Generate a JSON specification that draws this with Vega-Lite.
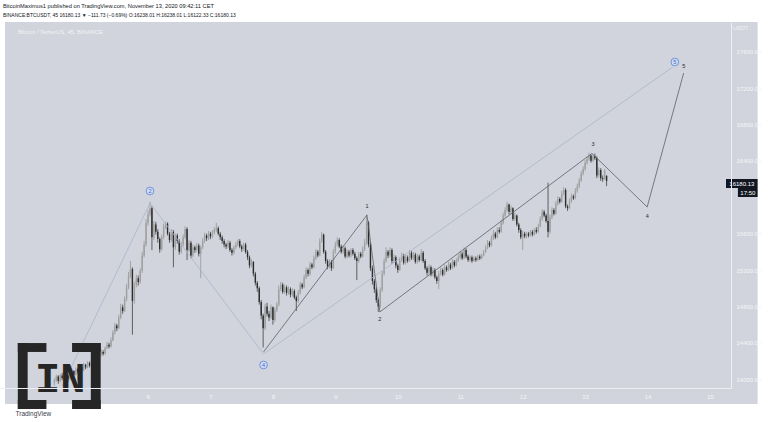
{
"$schema":"https://vega.github.io/schema/vega-lite/v6.json",
"width":731,"height":366,"autosize":"none",
"padding":{"left":0,"top":22,"right":37,"bottom":34},
"background":"#ffffff",
"config":{"view":{"stroke":null},"font":"Liberation Sans"},
"title":{"text":"BitcoinMaximus1 published on TradingView.com, November 13, 2020 09:42:11 CET","subtitle":"BINANCE:BTCUSDT, 45 16180.13 ▼ −111.73 (−0.69%) O:16238.01 H:16238.01 L:16122.33 C:16180.13","anchor":"start","frame":"group","fontSize":5.7,"fontWeight":"normal","subtitleFontSize":5,"color":"#131722","subtitleColor":"#131722","offset":4,"subtitlePadding":4,"dx":3},
"datasets":{
"candles":[
{"k":112,"o":13960,"c":13990,"h":14010,"l":13930},{"k":113,"o":13990,"c":14030,"h":14050,"l":13970},{"k":114,"o":14030,"c":13980,"h":14045,"l":13950},{"k":115,"o":13980,"c":14040,"h":14060,"l":13965},{"k":116,"o":14040,"c":14010,"h":14070,"l":13990},{"k":117,"o":14010,"c":14070,"h":14090,"l":14000},{"k":118,"o":14070,"c":14040,"h":14085,"l":14020},{"k":119,"o":14040,"c":14000,"h":14055,"l":13970},{"k":120,"o":14000,"c":14060,"h":14080,"l":13990},{"k":121,"o":14060,"c":14090,"h":14120,"l":14050},
{"k":122,"o":14090,"c":14050,"h":14100,"l":14030},{"k":123,"o":14050,"c":14110,"h":14130,"l":14040},{"k":124,"o":14110,"c":14080,"h":14125,"l":14060},{"k":125,"o":14080,"c":14130,"h":14150,"l":14070},{"k":126,"o":14130,"c":14100,"h":14140,"l":14080},{"k":127,"o":14100,"c":14160,"h":14180,"l":14090},{"k":128,"o":14160,"c":14130,"h":14170,"l":14110},{"k":129,"o":14130,"c":14180,"h":14200,"l":14120},{"k":130,"o":14180,"c":14150,"h":14195,"l":14130},{"k":131,"o":14150,"c":14210,"h":14230,"l":14140},
{"k":132,"o":14210,"c":14190,"h":14240,"l":14170},{"k":133,"o":14190,"c":14240,"h":14260,"l":14180},{"k":134,"o":14240,"c":14220,"h":14255,"l":14200},{"k":135,"o":14220,"c":14270,"h":14290,"l":14210},{"k":136,"o":14270,"c":14300,"h":14330,"l":14250},{"k":137,"o":14300,"c":14280,"h":14320,"l":14260},{"k":138,"o":14280,"c":14340,"h":14360,"l":14270},{"k":139,"o":14340,"c":14380,"h":14410,"l":14330},{"k":140,"o":14380,"c":14360,"h":14400,"l":14340},{"k":141,"o":14360,"c":14430,"h":14460,"l":14350},
{"k":142,"o":14430,"c":14510,"h":14540,"l":14420},{"k":143,"o":14510,"c":14590,"h":14620,"l":14490},{"k":144,"o":14590,"c":14560,"h":14610,"l":14530},{"k":145,"o":14560,"c":14680,"h":14710,"l":14550},{"k":146,"o":14680,"c":14790,"h":14830,"l":14660},{"k":147,"o":14790,"c":14750,"h":14820,"l":14720},{"k":148,"o":14750,"c":14880,"h":14910,"l":14740},{"k":149,"o":14880,"c":15010,"h":15050,"l":14860},{"k":150,"o":15010,"c":15130,"h":15180,"l":14990},{"k":151,"o":15130,"c":15210,"h":15300,"l":15110},
{"k":152,"o":15210,"c":14860,"h":15230,"l":14490},{"k":153,"o":14860,"c":15040,"h":15070,"l":14830},{"k":154,"o":15040,"c":15110,"h":15150,"l":15010},{"k":155,"o":15110,"c":15070,"h":15140,"l":15030},{"k":156,"o":15070,"c":15190,"h":15220,"l":15050},{"k":157,"o":15190,"c":15360,"h":15400,"l":15170},{"k":158,"o":15360,"c":15480,"h":15520,"l":15340},{"k":159,"o":15480,"c":15720,"h":15760,"l":15460},{"k":160,"o":15720,"c":15810,"h":15860,"l":15690},{"k":161,"o":15810,"c":15880,"h":15950,"l":15790},
{"k":162,"o":15880,"c":15560,"h":15900,"l":15420},{"k":163,"o":15560,"c":15700,"h":15740,"l":15530},{"k":164,"o":15700,"c":15620,"h":15730,"l":15590},{"k":165,"o":15620,"c":15540,"h":15650,"l":15500},{"k":166,"o":15540,"c":15430,"h":15560,"l":15390},{"k":167,"o":15430,"c":15560,"h":15590,"l":15410},{"k":168,"o":15560,"c":15680,"h":15710,"l":15540},{"k":169,"o":15680,"c":15710,"h":15730,"l":15650},{"k":170,"o":15710,"c":15600,"h":15725,"l":15580},{"k":171,"o":15600,"c":15530,"h":15620,"l":15500},
{"k":172,"o":15530,"c":15620,"h":15650,"l":15510},{"k":173,"o":15620,"c":15450,"h":15640,"l":15230},{"k":174,"o":15450,"c":15580,"h":15600,"l":15420},{"k":175,"o":15580,"c":15520,"h":15600,"l":15490},{"k":176,"o":15520,"c":15400,"h":15540,"l":15370},{"k":177,"o":15400,"c":15480,"h":15510,"l":15380},{"k":178,"o":15480,"c":15560,"h":15590,"l":15460},{"k":179,"o":15560,"c":15650,"h":15680,"l":15540},{"k":180,"o":15650,"c":15420,"h":15670,"l":15310},{"k":181,"o":15420,"c":15500,"h":15530,"l":15400},
{"k":182,"o":15500,"c":15360,"h":15520,"l":15330},{"k":183,"o":15360,"c":15450,"h":15480,"l":15340},{"k":184,"o":15450,"c":15420,"h":15470,"l":15390},{"k":185,"o":15420,"c":15470,"h":15500,"l":15400},{"k":186,"o":15470,"c":15380,"h":15490,"l":15350},{"k":187,"o":15380,"c":15450,"h":15470,"l":15110},{"k":188,"o":15450,"c":15520,"h":15550,"l":15430},{"k":189,"o":15520,"c":15580,"h":15610,"l":15500},{"k":190,"o":15580,"c":15550,"h":15600,"l":15520},{"k":191,"o":15550,"c":15600,"h":15630,"l":15530},
{"k":192,"o":15600,"c":15570,"h":15620,"l":15540},{"k":193,"o":15570,"c":15610,"h":15640,"l":15550},{"k":194,"o":15610,"c":15640,"h":15670,"l":15590},{"k":195,"o":15640,"c":15660,"h":15720,"l":15620},{"k":196,"o":15660,"c":15600,"h":15680,"l":15580},{"k":197,"o":15600,"c":15560,"h":15620,"l":15530},{"k":198,"o":15560,"c":15520,"h":15580,"l":15490},{"k":199,"o":15520,"c":15480,"h":15540,"l":15450},{"k":200,"o":15480,"c":15460,"h":15500,"l":15430},{"k":201,"o":15460,"c":15500,"h":15530,"l":15440},
{"k":202,"o":15500,"c":15420,"h":15520,"l":15400},{"k":203,"o":15420,"c":15390,"h":15440,"l":15360},{"k":204,"o":15390,"c":15450,"h":15470,"l":15370},{"k":205,"o":15450,"c":15480,"h":15510,"l":15430},{"k":206,"o":15480,"c":15520,"h":15540,"l":15460},{"k":207,"o":15520,"c":15460,"h":15540,"l":15440},{"k":208,"o":15460,"c":15430,"h":15480,"l":15400},{"k":209,"o":15430,"c":15480,"h":15500,"l":15410},{"k":210,"o":15480,"c":15400,"h":15500,"l":15380},{"k":211,"o":15400,"c":15340,"h":15420,"l":15310},
{"k":212,"o":15340,"c":15250,"h":15360,"l":15220},{"k":213,"o":15250,"c":15290,"h":15320,"l":15230},{"k":214,"o":15290,"c":15160,"h":15300,"l":15130},{"k":215,"o":15160,"c":15060,"h":15180,"l":15030},{"k":216,"o":15060,"c":15000,"h":15080,"l":14960},{"k":217,"o":15000,"c":14850,"h":15020,"l":14820},{"k":218,"o":14850,"c":14700,"h":14870,"l":14660},{"k":219,"o":14700,"c":14560,"h":14720,"l":14350},{"k":220,"o":14560,"c":14800,"h":14830,"l":14540},{"k":221,"o":14800,"c":14720,"h":14840,"l":14690},
{"k":222,"o":14720,"c":14680,"h":14750,"l":14640},{"k":223,"o":14680,"c":14790,"h":14820,"l":14660},{"k":224,"o":14790,"c":14650,"h":14800,"l":14600},{"k":225,"o":14650,"c":14760,"h":14790,"l":14630},{"k":226,"o":14760,"c":14820,"h":14850,"l":14740},{"k":227,"o":14820,"c":14990,"h":15030,"l":14800},{"k":228,"o":14990,"c":15040,"h":15070,"l":14970},{"k":229,"o":15040,"c":14960,"h":15060,"l":14940},{"k":230,"o":14960,"c":15010,"h":15040,"l":14940},{"k":231,"o":15010,"c":14950,"h":15030,"l":14920},
{"k":232,"o":14950,"c":14990,"h":15020,"l":14930},{"k":233,"o":14990,"c":14930,"h":15010,"l":14900},{"k":234,"o":14930,"c":14970,"h":15000,"l":14910},{"k":235,"o":14970,"c":14900,"h":14990,"l":14880},{"k":236,"o":14900,"c":14860,"h":14920,"l":14750},{"k":237,"o":14860,"c":14950,"h":14980,"l":14840},{"k":238,"o":14950,"c":15040,"h":15070,"l":14930},{"k":239,"o":15040,"c":15010,"h":15060,"l":14990},{"k":240,"o":15010,"c":15120,"h":15150,"l":15000},{"k":241,"o":15120,"c":15200,"h":15230,"l":15100},
{"k":242,"o":15200,"c":15160,"h":15220,"l":15130},{"k":243,"o":15160,"c":15260,"h":15290,"l":15140},{"k":244,"o":15260,"c":15230,"h":15280,"l":15210},{"k":245,"o":15230,"c":15330,"h":15360,"l":15220},{"k":246,"o":15330,"c":15400,"h":15430,"l":15310},{"k":247,"o":15400,"c":15360,"h":15420,"l":15340},{"k":248,"o":15360,"c":15520,"h":15550,"l":15350},{"k":249,"o":15520,"c":15590,"h":15620,"l":15500},{"k":250,"o":15590,"c":15400,"h":15600,"l":15380},{"k":251,"o":15400,"c":15300,"h":15420,"l":15270},
{"k":252,"o":15300,"c":15240,"h":15320,"l":15210},{"k":253,"o":15240,"c":15290,"h":15320,"l":15220},{"k":254,"o":15290,"c":15220,"h":15310,"l":15190},{"k":255,"o":15220,"c":15400,"h":15430,"l":15210},{"k":256,"o":15400,"c":15480,"h":15510,"l":15380},{"k":257,"o":15480,"c":15530,"h":15560,"l":15460},{"k":258,"o":15530,"c":15460,"h":15550,"l":15440},{"k":259,"o":15460,"c":15400,"h":15480,"l":15380},{"k":260,"o":15400,"c":15440,"h":15470,"l":15380},{"k":261,"o":15440,"c":15350,"h":15460,"l":15330},
{"k":262,"o":15350,"c":15400,"h":15430,"l":15330},{"k":263,"o":15400,"c":15360,"h":15420,"l":15340},{"k":264,"o":15360,"c":15420,"h":15440,"l":15340},{"k":265,"o":15420,"c":15380,"h":15440,"l":15360},{"k":266,"o":15380,"c":15330,"h":15400,"l":15310},{"k":267,"o":15330,"c":15300,"h":15350,"l":15090},{"k":268,"o":15300,"c":15380,"h":15400,"l":15280},{"k":269,"o":15380,"c":15350,"h":15400,"l":15330},{"k":270,"o":15350,"c":15430,"h":15460,"l":15340},{"k":271,"o":15430,"c":15500,"h":15540,"l":15410},
{"k":272,"o":15500,"c":15720,"h":15810,"l":15480},{"k":273,"o":15720,"c":15480,"h":15740,"l":15450},{"k":274,"o":15480,"c":15220,"h":15500,"l":15190},{"k":275,"o":15220,"c":15080,"h":15250,"l":15040},{"k":276,"o":15080,"c":14990,"h":15100,"l":14950},{"k":277,"o":14990,"c":14870,"h":15010,"l":14840},{"k":278,"o":14870,"c":14800,"h":14890,"l":14740},{"k":279,"o":14800,"c":14980,"h":15010,"l":14780},{"k":280,"o":14980,"c":15160,"h":15190,"l":14960},{"k":281,"o":15160,"c":15300,"h":15330,"l":15140},
{"k":282,"o":15300,"c":15400,"h":15450,"l":15280},{"k":283,"o":15400,"c":15360,"h":15420,"l":15330},{"k":284,"o":15360,"c":15420,"h":15450,"l":15340},{"k":285,"o":15420,"c":15300,"h":15440,"l":15270},{"k":286,"o":15300,"c":15340,"h":15370,"l":15280},{"k":287,"o":15340,"c":15250,"h":15360,"l":15220},{"k":288,"o":15250,"c":15200,"h":15270,"l":15170},{"k":289,"o":15200,"c":15310,"h":15340,"l":15190},{"k":290,"o":15310,"c":15360,"h":15390,"l":15290},{"k":291,"o":15360,"c":15280,"h":15380,"l":15260},
{"k":292,"o":15280,"c":15340,"h":15370,"l":15260},{"k":293,"o":15340,"c":15300,"h":15360,"l":15280},{"k":294,"o":15300,"c":15390,"h":15420,"l":15290},{"k":295,"o":15390,"c":15330,"h":15410,"l":15310},{"k":296,"o":15330,"c":15370,"h":15400,"l":15310},{"k":297,"o":15370,"c":15290,"h":15390,"l":15270},{"k":298,"o":15290,"c":15350,"h":15380,"l":15270},{"k":299,"o":15350,"c":15310,"h":15370,"l":15290},{"k":300,"o":15310,"c":15390,"h":15430,"l":15300},{"k":301,"o":15390,"c":15300,"h":15410,"l":15280},
{"k":302,"o":15300,"c":15220,"h":15320,"l":15200},{"k":303,"o":15220,"c":15170,"h":15240,"l":15140},{"k":304,"o":15170,"c":15230,"h":15260,"l":15150},{"k":305,"o":15230,"c":15150,"h":15250,"l":15130},{"k":306,"o":15150,"c":15200,"h":15230,"l":15130},{"k":307,"o":15200,"c":15120,"h":15220,"l":15100},{"k":308,"o":15120,"c":15080,"h":15140,"l":15050},{"k":309,"o":15080,"c":15160,"h":15190,"l":14990},{"k":310,"o":15160,"c":15200,"h":15230,"l":15140},{"k":311,"o":15200,"c":15150,"h":15220,"l":15130},
{"k":312,"o":15150,"c":15230,"h":15260,"l":15140},{"k":313,"o":15230,"c":15200,"h":15250,"l":15180},{"k":314,"o":15200,"c":15260,"h":15290,"l":15190},{"k":315,"o":15260,"c":15220,"h":15280,"l":15200},{"k":316,"o":15220,"c":15290,"h":15320,"l":15210},{"k":317,"o":15290,"c":15250,"h":15310,"l":15230},{"k":318,"o":15250,"c":15300,"h":15330,"l":15240},{"k":319,"o":15300,"c":15340,"h":15370,"l":15290},{"k":320,"o":15340,"c":15380,"h":15410,"l":15320},{"k":321,"o":15380,"c":15330,"h":15400,"l":15310},
{"k":322,"o":15330,"c":15420,"h":15450,"l":15320},{"k":323,"o":15420,"c":15350,"h":15440,"l":15330},{"k":324,"o":15350,"c":15310,"h":15370,"l":15290},{"k":325,"o":15310,"c":15340,"h":15360,"l":15290},{"k":326,"o":15340,"c":15300,"h":15360,"l":15280},{"k":327,"o":15300,"c":15330,"h":15350,"l":15290},{"k":328,"o":15330,"c":15310,"h":15350,"l":15290},{"k":329,"o":15310,"c":15350,"h":15370,"l":15300},{"k":330,"o":15350,"c":15330,"h":15370,"l":15310},{"k":331,"o":15330,"c":15360,"h":15380,"l":15320},
{"k":332,"o":15360,"c":15400,"h":15420,"l":15350},{"k":333,"o":15400,"c":15440,"h":15470,"l":15390},{"k":334,"o":15440,"c":15500,"h":15530,"l":15430},{"k":335,"o":15500,"c":15470,"h":15520,"l":15450},{"k":336,"o":15470,"c":15550,"h":15580,"l":15460},{"k":337,"o":15550,"c":15600,"h":15640,"l":15530},{"k":338,"o":15600,"c":15560,"h":15620,"l":15540},{"k":339,"o":15560,"c":15640,"h":15670,"l":15550},{"k":340,"o":15640,"c":15620,"h":15670,"l":15600},{"k":341,"o":15620,"c":15720,"h":15750,"l":15610},
{"k":342,"o":15720,"c":15800,"h":15830,"l":15700},{"k":343,"o":15800,"c":15860,"h":15890,"l":15780},{"k":344,"o":15860,"c":15920,"h":15950,"l":15840},{"k":345,"o":15920,"c":15840,"h":15930,"l":15810},{"k":346,"o":15840,"c":15880,"h":15910,"l":15820},{"k":347,"o":15880,"c":15760,"h":15890,"l":15740},{"k":348,"o":15760,"c":15800,"h":15830,"l":15740},{"k":349,"o":15800,"c":15700,"h":15810,"l":15680},{"k":350,"o":15700,"c":15640,"h":15720,"l":15610},{"k":351,"o":15640,"c":15560,"h":15660,"l":15540},
{"k":352,"o":15560,"c":15600,"h":15630,"l":15420},{"k":353,"o":15600,"c":15570,"h":15620,"l":15550},{"k":354,"o":15570,"c":15600,"h":15620,"l":15550},{"k":355,"o":15600,"c":15580,"h":15620,"l":15560},{"k":356,"o":15580,"c":15620,"h":15640,"l":15570},{"k":357,"o":15620,"c":15590,"h":15640,"l":15570},{"k":358,"o":15590,"c":15640,"h":15660,"l":15580},{"k":359,"o":15640,"c":15620,"h":15670,"l":15600},{"k":360,"o":15620,"c":15680,"h":15710,"l":15610},{"k":361,"o":15680,"c":15760,"h":15790,"l":15670},
{"k":362,"o":15760,"c":15840,"h":15870,"l":15740},{"k":363,"o":15840,"c":15800,"h":15860,"l":15780},{"k":364,"o":15800,"c":15740,"h":15820,"l":15720},{"k":365,"o":15740,"c":15620,"h":16160,"l":15560},{"k":366,"o":15620,"c":15780,"h":15810,"l":15600},{"k":367,"o":15780,"c":15860,"h":15890,"l":15760},{"k":368,"o":15860,"c":15820,"h":15880,"l":15800},{"k":369,"o":15820,"c":15930,"h":15960,"l":15810},{"k":370,"o":15930,"c":15980,"h":16010,"l":15910},{"k":371,"o":15980,"c":15950,"h":16000,"l":15930},
{"k":372,"o":15950,"c":16040,"h":16070,"l":15940},{"k":373,"o":16040,"c":16080,"h":16110,"l":16020},{"k":374,"o":16080,"c":15900,"h":16100,"l":15880},{"k":375,"o":15900,"c":15880,"h":15920,"l":15850},{"k":376,"o":15880,"c":15960,"h":15990,"l":15870},{"k":377,"o":15960,"c":16010,"h":16040,"l":15940},{"k":378,"o":16010,"c":15990,"h":16030,"l":15970},{"k":379,"o":15990,"c":16070,"h":16100,"l":15980},{"k":380,"o":16070,"c":16120,"h":16150,"l":16050},{"k":381,"o":16120,"c":16180,"h":16210,"l":16100},
{"k":382,"o":16180,"c":16260,"h":16290,"l":16170},{"k":383,"o":16260,"c":16310,"h":16340,"l":16240},{"k":384,"o":16310,"c":16380,"h":16410,"l":16290},{"k":385,"o":16380,"c":16420,"h":16450,"l":16360},{"k":386,"o":16420,"c":16460,"h":16490,"l":16400},{"k":387,"o":16460,"c":16400,"h":16470,"l":16380},{"k":388,"o":16400,"c":16450,"h":16470,"l":16390},{"k":389,"o":16450,"c":16430,"h":16480,"l":16410},{"k":390,"o":16430,"c":16240,"h":16450,"l":16210},{"k":391,"o":16240,"c":16300,"h":16330,"l":16220},
{"k":392,"o":16300,"c":16210,"h":16320,"l":16180},{"k":393,"o":16210,"c":16200,"h":16240,"l":16170},{"k":394,"o":16200,"c":16291.86,"h":16310,"l":16190},{"k":395,"o":16238.01,"c":16180.13,"h":16238.01,"l":16122.33}
],
"circ":[{"i":0,"k":116,"p":13926},{"i":1,"k":161,"p":15937},{"i":2,"k":219.2,"p":14278},{"i":3,"k":429,"p":17432}],
"sub":[{"i":0,"k":219.2,"p":14300},{"i":1,"k":272.2,"p":15805},{"i":2,"k":278.8,"p":14740},{"i":3,"k":387.5,"p":16482},{"i":4,"k":415.8,"p":15893},{"i":5,"k":434.5,"p":17365}],
"circLabels":[{"t":"2","k":161,"p":16069},{"t":"4","k":219.2,"p":14157},{"t":"5","k":430,"p":17486}],
"subLabels":[{"t":"1","k":272.2,"p":15904},{"t":"2","k":278.8,"p":14662},{"t":"3","k":388,"p":16581},{"t":"4","k":415.8,"p":15794},{"t":"5","k":434.5,"p":17442}]
},
"layer":[
{"data":{"values":[{}]},"mark":{"type":"rect","color":"#d1d4dc","clip":false},
 "encoding":{
  "x":{"datum":86.7,"type":"quantitative","scale":{"domain":[86.7,456.2],"nice":false,"zero":false},
   "axis":{"values":[160,192,224,256,288,320,352,384,416,448],"labelExpr":"datum.value/32+1","grid":false,"ticks":false,"domainColor":"#eceef3","labelColor":"#f4f5f8","labelFontSize":6,"labelPadding":5,"labelFlush":false,"zindex":1,"title":"TradingView","titleX":15,"titleY":25,"titleAlign":"left","titleBaseline":"middle","titleFontSize":6.5,"titleFontWeight":"normal","titleColor":"#3a3e4a"}},
  "x2":{"datum":472.4},
  "y":{"datum":17926,"type":"quantitative","scale":{"domain":[13904,17926],"nice":false,"zero":false},
   "axis":{"orient":"right","values":[14000,14200,14400,14600,14800,15000,15200,15400,15600,15800,16400,16600,16800,17000,17200,17400,17600],"format":".2f","grid":false,"ticks":false,"domainColor":"#eceef3","labelColor":"#f4f5f8","labelFontSize":6,"labelPadding":5,"labelAlign":"left","zindex":1,"title":null}},
  "y2":{"datum":13728}}},
{"data":{"name":"candles"},"mark":{"type":"rule","strokeWidth":0.7},
 "encoding":{"x":{"field":"k","type":"quantitative","scale":{"domain":[86.7,456.2],"nice":false,"zero":false}},
  "y":{"field":"l","type":"quantitative","scale":{"domain":[13904,17926],"nice":false,"zero":false}},"y2":{"field":"h"},
  "color":{"condition":{"test":"datum.c >= datum.o","value":"#8c8c8c"},"value":"#2c2c2c"}}},
{"data":{"name":"candles"},"mark":{"type":"bar","size":1.4},
 "encoding":{"x":{"field":"k","type":"quantitative","scale":{"domain":[86.7,456.2],"nice":false,"zero":false}},
  "y":{"field":"o","type":"quantitative","scale":{"domain":[13904,17926],"nice":false,"zero":false}},"y2":{"field":"c"},
  "color":{"condition":{"test":"datum.c >= datum.o","value":"#a0a0a0"},"value":"#2c2c2c"}}},
{"data":{"name":"circ"},"mark":{"type":"line","color":"#a9b4cc","strokeWidth":0.8,"clip":false},
 "encoding":{"x":{"field":"k","type":"quantitative","scale":{"domain":[86.7,456.2],"nice":false,"zero":false}},
  "y":{"field":"p","type":"quantitative","scale":{"domain":[13904,17926],"nice":false,"zero":false}},"order":{"field":"i"}}},
{"data":{"name":"sub"},"mark":{"type":"line","color":"#5c5f66","strokeWidth":0.8,"clip":false},
 "encoding":{"x":{"field":"k","type":"quantitative","scale":{"domain":[86.7,456.2],"nice":false,"zero":false}},
  "y":{"field":"p","type":"quantitative","scale":{"domain":[13904,17926],"nice":false,"zero":false}},"order":{"field":"i"}}},
{"data":{"name":"circLabels"},"mark":{"type":"point","shape":"circle","size":60,"filled":true,"fill":"#cfdaf2","stroke":"#5b84d6","strokeWidth":0.8,"opacity":1},
 "encoding":{"x":{"field":"k","type":"quantitative","scale":{"domain":[86.7,456.2],"nice":false,"zero":false}},
  "y":{"field":"p","type":"quantitative","scale":{"domain":[13904,17926],"nice":false,"zero":false}}}},
{"data":{"name":"circLabels"},"mark":{"type":"text","fontSize":5.5,"color":"#3d6cc9","baseline":"middle","align":"center"},
 "encoding":{"x":{"field":"k","type":"quantitative","scale":{"domain":[86.7,456.2],"nice":false,"zero":false}},
  "y":{"field":"p","type":"quantitative","scale":{"domain":[13904,17926],"nice":false,"zero":false}},"text":{"field":"t"}}},
{"data":{"name":"subLabels"},"mark":{"type":"text","fontSize":5.5,"color":"#2a2a2a","baseline":"middle","align":"center"},
 "encoding":{"x":{"field":"k","type":"quantitative","scale":{"domain":[86.7,456.2],"nice":false,"zero":false}},
  "y":{"field":"p","type":"quantitative","scale":{"domain":[13904,17926],"nice":false,"zero":false}},"text":{"field":"t"}}},
{"data":{"values":[{}]},"mark":{"type":"text","text":"Bitcoin / TetherUS, 45, BINANCE","fontSize":5.8,"color":"#f1f2f6","align":"left","baseline":"middle"},
 "encoding":{"x":{"datum":93.3},"y":{"datum":17816}}},
{"data":{"values":[{}]},"mark":{"type":"text","text":"USDT","fontSize":5.5,"color":"#f1f2f6","align":"center","baseline":"middle"},
 "encoding":{"x":{"datum":463.8},"y":{"datum":17860}}},
{"data":{"values":[{}]},"mark":{"type":"rect","color":"#131722","clip":false},
 "encoding":{"x":{"datum":456.2},"x2":{"datum":472.4},"y":{"datum":16201},"y2":{"datum":16102}}},
{"data":{"values":[{}]},"mark":{"type":"rect","color":"#131722","clip":false},
 "encoding":{"x":{"datum":462.3},"x2":{"datum":472.4},"y":{"datum":16102},"y2":{"datum":16003}}},
{"data":{"values":[{}]},"mark":{"type":"text","text":"16180.13","fontSize":6,"color":"#ffffff","align":"center","baseline":"middle"},
 "encoding":{"x":{"datum":464.3},"y":{"datum":16151}}},
{"data":{"values":[{}]},"mark":{"type":"text","text":"17:50","fontSize":6,"color":"#ffffff","align":"center","baseline":"middle"},
 "encoding":{"x":{"datum":467.4},"y":{"datum":16052}}},
{"data":{"values":[{}]},"mark":{"type":"rect","color":"#262626","clip":false},
 "encoding":{"x":{"datum":93.27},"x2":{"datum":98.32},"y":{"datum":14398},"y2":{"datum":13673}}},
{"data":{"values":[{}]},"mark":{"type":"rect","color":"#262626","clip":false},
 "encoding":{"x":{"datum":93.27},"x2":{"datum":107.93},"y":{"datum":14398},"y2":{"datum":14300}}},
{"data":{"values":[{}]},"mark":{"type":"rect","color":"#262626","clip":false},
 "encoding":{"x":{"datum":93.27},"x2":{"datum":107.93},"y":{"datum":13772},"y2":{"datum":13673}}},
{"data":{"values":[{}]},"mark":{"type":"rect","color":"#262626","clip":false},
 "encoding":{"x":{"datum":130.68},"x2":{"datum":135.73},"y":{"datum":14398},"y2":{"datum":13673}}},
{"data":{"values":[{}]},"mark":{"type":"rect","color":"#262626","clip":false},
 "encoding":{"x":{"datum":121.07},"x2":{"datum":135.73},"y":{"datum":14398},"y2":{"datum":14300}}},
{"data":{"values":[{}]},"mark":{"type":"rect","color":"#262626","clip":false},
 "encoding":{"x":{"datum":121.07},"x2":{"datum":135.73},"y":{"datum":13772},"y2":{"datum":13673}}},
{"data":{"values":[{}]},"mark":{"type":"text","text":"IN","fontSize":42,"font":"Liberation Mono","fontWeight":"bold","color":"#262626","align":"center","baseline":"middle"},
 "encoding":{"x":{"datum":115},"y":{"datum":14000}}}
]
}
